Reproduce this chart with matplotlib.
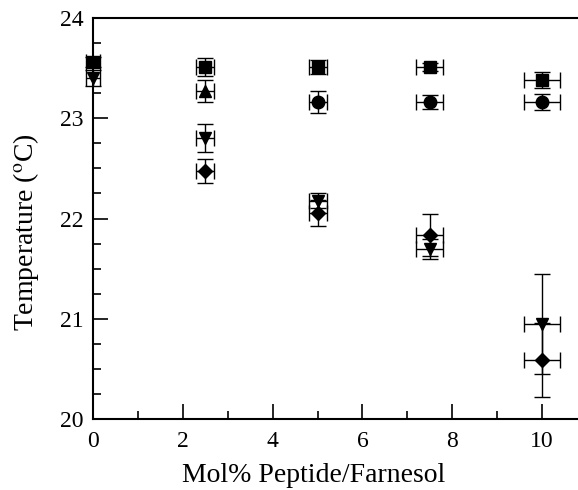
import matplotlib.pyplot as plt
from matplotlib.ticker import MultipleLocator

plt.rcParams['font.family'] = ['Liberation Serif', 'DejaVu Serif']
plt.rcParams['mathtext.fontset'] = 'stix'

# squares
sq_x = [0, 2.5, 5, 7.5, 10]
sq_y = [23.56, 23.51, 23.51, 23.51, 23.38]
sq_xerr = [0.15, 0.2, 0.2, 0.3, 0.4]
sq_yerr = [0.05, 0.09, 0.07, 0.04, 0.08]

# circles
ci_x = [5, 7.5, 10]
ci_y = [23.16, 23.16, 23.16]
ci_xerr = [0.2, 0.3, 0.4]
ci_yerr = [0.11, 0.07, 0.08]

# triangle up
tu_x = [2.5]
tu_y = [23.27]
tu_xerr = [0.2]
tu_yerr = [0.11]

# triangle down
td_x = [0, 2.5, 5, 7.5, 10]
td_y = [23.40, 22.80, 22.18, 21.70, 20.95]
td_xerr = [0.15, 0.2, 0.2, 0.3, 0.4]
td_yerr = [0.08, 0.14, 0.07, 0.1, 0.5]

# diamonds
di_x = [2.5, 5, 7.5, 10]
di_y = [22.47, 22.06, 21.84, 20.59]
di_xerr = [0.2, 0.2, 0.3, 0.4]
di_yerr = [0.12, 0.13, 0.21, 0.37]

fig = plt.figure(figsize=(5.78, 4.9), dpi=100)
ax = fig.add_axes([0.161, 0.145, 0.839, 0.818])

series = [
    (sq_x, sq_y, sq_xerr, sq_yerr, 's', 9),
    (ci_x, ci_y, ci_xerr, ci_yerr, 'o', 9),
    (tu_x, tu_y, tu_xerr, tu_yerr, '^', 9),
    (td_x, td_y, td_xerr, td_yerr, 'v', 9),
    (di_x, di_y, di_xerr, di_yerr, 'D', 7),
]
for x, y, xe, ye, m, ms in series:
    ax.errorbar(x, y, xerr=xe, yerr=ye, fmt=m, color='black', ms=ms,
                ecolor='black', elinewidth=1, capsize=6, capthick=1,
                clip_on=False)

ax.set_xlim(0, 10.8)
ax.set_ylim(20, 24)
ax.xaxis.set_major_locator(MultipleLocator(2))
ax.xaxis.set_minor_locator(MultipleLocator(1))
ax.yaxis.set_major_locator(MultipleLocator(1))
ax.yaxis.set_minor_locator(MultipleLocator(0.25))
ax.tick_params(which='both', direction='in', labelsize=17, width=1.2)
ax.tick_params(which='major', length=11)
ax.tick_params(which='minor', length=6)
ax.tick_params(axis='x', pad=9)
ax.tick_params(axis='y', pad=7)
ax.spines['right'].set_visible(False)
for s in ['left', 'bottom', 'top']:
    ax.spines[s].set_linewidth(1.5)

ax.set_xlabel('Mol% Peptide/Farnesol', fontsize=20)
ax.set_ylabel('Temperature ($^{\\rm o}$C)', fontsize=20)
ax.xaxis.set_label_coords(0.454, -0.11)
ax.yaxis.set_label_coords(-0.108, 0.465)

fig.savefig('out.png', dpi=100)
